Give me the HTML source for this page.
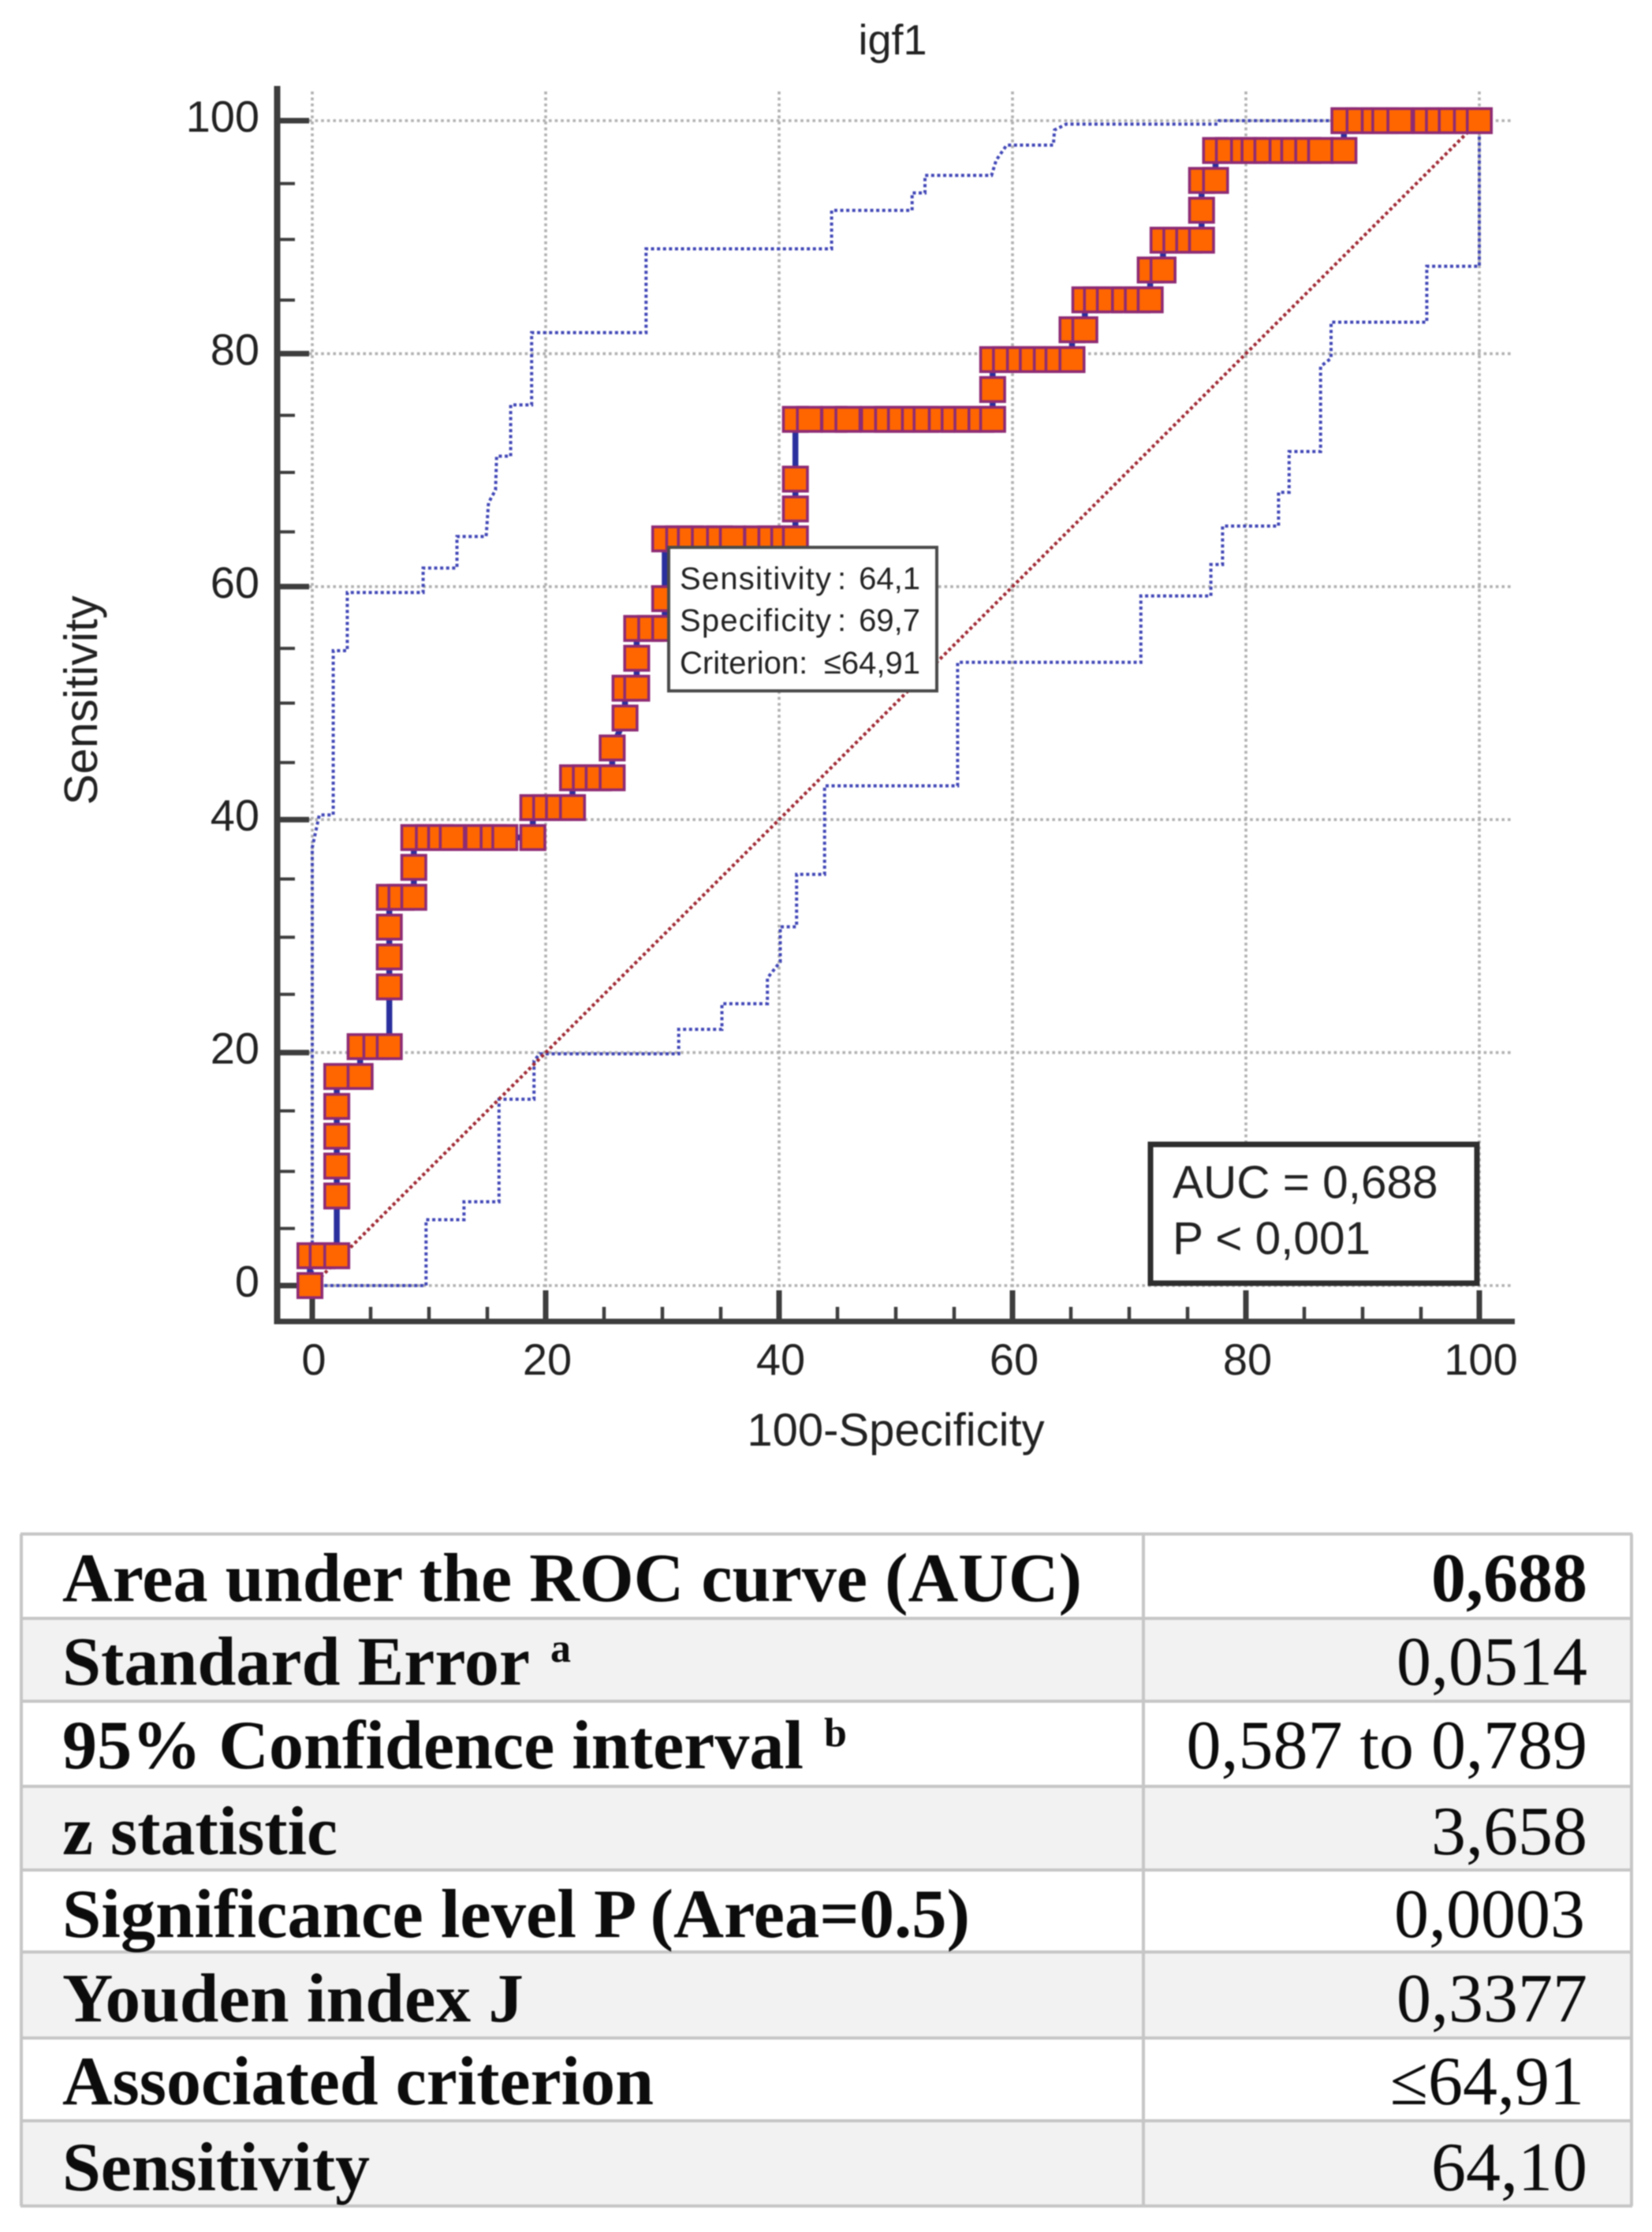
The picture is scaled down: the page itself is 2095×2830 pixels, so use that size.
<!DOCTYPE html>
<html lang="en">
<head>
<meta charset="utf-8">
<title>igf1 ROC curve</title>
<style>
html,body{margin:0;padding:0;background:#fff;width:2095px;height:2830px;overflow:hidden}
#canvas{display:block;position:absolute;left:0;top:0}
.ax{font-family:"Liberation Sans",sans-serif;fill:#222}
.tb{font-family:"Liberation Serif",serif;fill:#0c0c0c;font-size:88px}
.b{font-weight:bold}
</style>
</head>
<body>
<svg id="canvas" xmlns="http://www.w3.org/2000/svg" width="2095" height="2830" viewBox="0 0 2095 2830">
  <g id="chart" style="filter:blur(0.9px)">
    <text class="ax" x="1132" y="69" font-size="54" text-anchor="middle">igf1</text>
    <text class="ax" transform="translate(123,888) rotate(-90)" font-size="59" text-anchor="middle">Sensitivity</text>
    <text class="ax" x="1136" y="1833" font-size="58" text-anchor="middle">100-Specificity</text>
    <g id="grid"></g>
    <g id="axes"></g>
    <g id="series"></g>
    <g>
      <rect x="848" y="694" width="340" height="182" fill="#fff" stroke="#4a4a4a" stroke-width="4"/>
      <text class="ax" x="862" y="747" font-size="40" textLength="192" lengthAdjust="spacing">Sensitivity</text>
      <text class="ax" x="1062" y="747" font-size="40">:</text>
      <text class="ax" x="1167" y="747" font-size="40" text-anchor="end">64,1</text>
      <text class="ax" x="862" y="800" font-size="40" textLength="192" lengthAdjust="spacing">Specificity</text>
      <text class="ax" x="1062" y="800" font-size="40">:</text>
      <text class="ax" x="1167" y="800" font-size="40" text-anchor="end">69,7</text>
      <text class="ax" x="862" y="854" font-size="40">Criterion:</text>
      <text class="ax" x="1167" y="854" font-size="40" text-anchor="end">≤64,91</text>
    </g>
    <g>
      <rect x="1459" y="1451" width="414" height="176" fill="#fff" stroke="#2e2e2e" stroke-width="7"/>
      <text class="ax" x="1487" y="1519" font-size="58.5">AUC = 0,688</text>
      <text class="ax" x="1487" y="1590" font-size="58.5">P &lt; 0,001</text>
    </g>
  </g>
  <g style="filter:blur(0.8px)">
    <rect x="27" y="1945" width="2042" height="106" fill="#ffffff"/>
    <rect x="27" y="2052" width="2042" height="105" fill="#f2f2f2"/>
    <rect x="27" y="2157" width="2042" height="108" fill="#ffffff"/>
    <rect x="27" y="2265" width="2042" height="106" fill="#f2f2f2"/>
    <rect x="27" y="2371" width="2042" height="104" fill="#ffffff"/>
    <rect x="27" y="2475" width="2042" height="109" fill="#f2f2f2"/>
    <rect x="27" y="2584" width="2042" height="105" fill="#ffffff"/>
    <rect x="27" y="2689" width="2042" height="108" fill="#f2f2f2"/>
    <path d="M26 1945H2070M26 2052H2070M26 2157H2070M26 2265H2070M26 2371H2070M26 2475H2070M26 2584H2070M26 2689H2070M26 2797H2070M27 1945V2797M1450 1945V2797M2069 1945V2797" stroke="#c6c6c6" stroke-width="4" fill="none"/>

    <text class="tb b" x="79" y="2030" textLength="1293" lengthAdjust="spacingAndGlyphs">Area under the ROC curve (AUC)</text>
    <text class="tb b" x="2013" y="2030" text-anchor="end">0,688</text>

    <text class="tb b" x="79" y="2136" textLength="593" lengthAdjust="spacingAndGlyphs">Standard Error</text>
    <text class="tb b" x="698" y="2107" style="font-size:52px">a</text>
    <text class="tb" x="2013" y="2136" text-anchor="end">0,0514</text>

    <text class="tb b" x="79" y="2242" textLength="940" lengthAdjust="spacingAndGlyphs">95% Confidence interval</text>
    <text class="tb b" x="1045" y="2214" style="font-size:52px">b</text>
    <text class="tb" x="2013" y="2242" text-anchor="end">0,587 to 0,789</text>

    <text class="tb b" x="79" y="2351" textLength="349" lengthAdjust="spacingAndGlyphs">z statistic</text>
    <text class="tb" x="2013" y="2351" text-anchor="end">3,658</text>

    <text class="tb b" x="79" y="2456" textLength="1151" lengthAdjust="spacingAndGlyphs">Significance level P (Area=0.5)</text>
    <text class="tb" x="2010" y="2456" text-anchor="end">0,0003</text>

    <text class="tb b" x="79" y="2563" textLength="585" lengthAdjust="spacingAndGlyphs">Youden index J</text>
    <text class="tb" x="2013" y="2563" text-anchor="end">0,3377</text>

    <text class="tb b" x="79" y="2668" textLength="750" lengthAdjust="spacingAndGlyphs">Associated criterion</text>
    <text class="tb" x="2009" y="2668" text-anchor="end">≤64,91</text>

    <text class="tb b" x="79" y="2777" textLength="390" lengthAdjust="spacingAndGlyphs">Sensitivity</text>
    <text class="tb" x="2013" y="2777" text-anchor="end">64,10</text>
  </g>
</svg>
<script>
// ---- chart data ----
var xTickLabels = [0, 20, 40, 60, 80, 100];
var yTickLabels = [0, 20, 40, 60, 80, 100];
var xMinorTicks = [5, 10, 15, 25, 30, 35, 45, 50, 55, 65, 70, 75, 85, 90, 95];
var yMinorTicks = [4.9, 9.8, 15, 25, 29.9, 34.9, 44.9, 50, 54.7, 64.7, 69.8, 74.7, 84.6, 89.8, 94.6];

var rocX = [-0.2,
  -0.2, 0.85, 2.1,
  2.1, 2.1, 2.1, 2.1, 2.1, 4.1,
  4.1, 5.45, 6.6,
  6.6, 6.6, 6.6, 6.6, 7.6, 8.7,
  8.7, 8.7, 9.95, 11, 12, 14.2, 15.5, 16.5, 18.9,
  18.9, 20, 21.1, 22.3,
  22.3, 23.4, 24.5, 25.7,
  25.7, 26.8, 26.8, 27.8, 27.8, 27.8, 29, 30.2,
  30.2, 30.2, 31.4, 32.4, 33.6, 34.9, 36, 38.1, 39.3, 40.4, 41.4,
  41.4, 41.4, 41.4, 42.6, 44.7, 45.9, 48.1, 49.3, 50.4, 51.6, 52.6, 53.9, 55, 56.1, 57.3, 58.3,
  58.3, 58.3, 59.4, 60.6, 61.7, 62.9, 63.9, 65.1,
  65.1, 66.2,
  66.2, 67.2, 68.3, 69.6, 70.7, 71.8,
  71.8, 72.9,
  72.9, 74, 75.1, 76.2,
  76.2, 76.2, 77.4,
  77.4, 78.5, 79.8, 80.7, 81.8, 83.1, 84.1, 85.3, 86.4, 88.4,
  88.4, 89.7, 91, 91.9, 93.2, 95.4, 96.5, 97.6, 98.9, 100];
var rocY = [0,
  2.56, 2.56, 2.56,
  7.69, 10.26, 12.82, 15.38, 17.95, 17.95,
  20.51, 20.51, 20.51,
  25.64, 28.21, 30.77, 33.33, 33.33, 33.33,
  35.9, 38.46, 38.46, 38.46, 38.46, 38.46, 38.46, 38.46, 38.46,
  41.03, 41.03, 41.03, 41.03,
  43.59, 43.59, 43.59, 43.59,
  46.15, 48.72, 51.28, 51.28, 53.85, 56.41, 56.41, 56.41,
  58.97, 64.1, 64.1, 64.1, 64.1, 64.1, 64.1, 64.1, 64.1, 64.1, 64.1,
  66.67, 69.23, 74.36, 74.36, 74.36, 74.36, 74.36, 74.36, 74.36, 74.36, 74.36, 74.36, 74.36, 74.36, 74.36, 74.36,
  76.92, 79.49, 79.49, 79.49, 79.49, 79.49, 79.49, 79.49,
  82.05, 82.05,
  84.62, 84.62, 84.62, 84.62, 84.62, 84.62,
  87.18, 87.18,
  89.74, 89.74, 89.74, 89.74,
  92.31, 94.87, 94.87,
  97.44, 97.44, 97.44, 97.44, 97.44, 97.44, 97.44, 97.44, 97.44, 97.44,
  100, 100, 100, 100, 100, 100, 100, 100, 100, 100];

var upperCiX = [0, 0, 0.6, 1.8, 1.8, 3, 3, 9.5, 9.5, 12.4, 12.4, 14.9, 15.1, 15.7, 15.8, 17, 17, 18.8, 18.8, 28.6, 28.6, 44.5, 44.5, 51.4, 51.4, 52.5, 52.5, 58.2, 58.6, 59.5, 63.5, 63.6, 64.6, 77.6, 77.7, 100];
var upperCiY = [0, 37.6, 40.4, 40.4, 54.5, 54.5, 59.5, 59.5, 61.6, 61.6, 64.3, 64.3, 67.2, 68.3, 71.2, 71.2, 75.6, 75.6, 81.8, 81.8, 89, 89, 92.3, 92.3, 93.8, 93.8, 95.3, 95.3, 96.6, 97.9, 97.9, 99.2, 99.7, 99.7, 100, 100];
var lowerCiX = [0, 9.75, 9.75, 13, 13, 16, 16, 19, 19, 19.5, 31.4, 31.4, 35.1, 35.1, 39, 39, 40.1, 40.1, 41.5, 41.5, 43.9, 43.9, 55.3, 55.3, 71, 71, 77, 77, 78, 78, 82.8, 82.8, 83.7, 83.7, 86.4, 86.4, 87.3, 87.3, 95.5, 95.5, 100, 100];
var lowerCiY = [0, 0, 5.65, 5.65, 7.2, 7.2, 16, 16, 19.3, 19.9, 19.9, 22, 22, 24.2, 24.2, 26.4, 27.8, 30.8, 30.8, 35.3, 35.3, 42.9, 42.9, 53.5, 53.5, 59.2, 59.2, 61.9, 61.9, 65.2, 65.2, 68.1, 68.1, 71.6, 71.6, 78.9, 79.6, 82.7, 82.7, 87.5, 87.5, 100];

var diagonalX = [0, 100];
var diagonalY = [0, 100];

// ---- axis functions ----
function xScale(v) { return 396 + 14.8 * v; }
function yScale(v) { return 1630 - 14.77 * v; }

var NS = 'http://www.w3.org/2000/svg';
var gridG = document.getElementById('grid');
var axesG = document.getElementById('axes');
var seriesG = document.getElementById('series');

function line(parent, x1, y1, x2, y2, color, width, dash) {
  var l = document.createElementNS(NS, 'line');
  l.setAttribute('x1', x1);
  l.setAttribute('y1', y1);
  l.setAttribute('x2', x2);
  l.setAttribute('y2', y2);
  l.setAttribute('stroke', color);
  l.setAttribute('stroke-width', width);
  if (dash) l.setAttribute('stroke-dasharray', dash);
  parent.appendChild(l);
  return l;
}
function polyline(parent, xs, ys, color, width, dash) {
  var p = document.createElementNS(NS, 'polyline');
  var pts = [];
  for (var i = 0; i < xs.length; i++) pts.push(xScale(xs[i]).toFixed(1) + ',' + yScale(ys[i]).toFixed(1));
  p.setAttribute('points', pts.join(' '));
  p.setAttribute('fill', 'none');
  p.setAttribute('stroke', color);
  p.setAttribute('stroke-width', width);
  if (dash) p.setAttribute('stroke-dasharray', dash);
  parent.appendChild(p);
  return p;
}
function label(parent, x, y, txt, anchor) {
  var t = document.createElementNS(NS, 'text');
  t.setAttribute('class', 'ax');
  t.setAttribute('x', x);
  t.setAttribute('y', y);
  t.setAttribute('font-size', '56');
  t.setAttribute('text-anchor', anchor);
  t.textContent = txt;
  parent.appendChild(t);
  return t;
}

// grid
xTickLabels.forEach(function (v) {
  var g = line(gridG, xScale(v), 116, xScale(v), 1636, '#b0b0b0', 3.6, '3.6 4');
  
  
});
yTickLabels.forEach(function (v) {
  var g = line(gridG, 392, yScale(v), 1916, yScale(v), '#b0b0b0', 3.6, '3.6 4');
  
  
});

// axes
var ySpine = line(axesG, 351.5, 109, 351.5, 1679, '#3d3d3d', 8);


var xSpine = line(axesG, 348, 1675.5, 1921, 1675.5, '#3d3d3d', 7);



yTickLabels.forEach(function (v) {
  var t = line(axesG, 352, yScale(v), 392, yScale(v), '#3d3d3d', 7);
  
  
  var l = label(axesG, 329, yScale(v) + 14, String(v), 'end');
  
  
});
yMinorTicks.forEach(function (v) {
  var t = line(axesG, 352, yScale(v), 374, yScale(v), '#3d3d3d', 4);
  
  
});
xTickLabels.forEach(function (v) {
  var t = line(axesG, xScale(v), 1675, xScale(v), 1636, '#3d3d3d', 7);
  
  
  var l = label(axesG, xScale(v) + 2, 1743, String(v), 'middle');
  
  
});
xMinorTicks.forEach(function (v) {
  var t = line(axesG, xScale(v), 1675, xScale(v), 1657, '#3d3d3d', 4.5);
  
  
});

// series
var upperLine = polyline(seriesG, upperCiX, upperCiY, '#4046b6', 4, '4 3.6');


var lowerLine = polyline(seriesG, lowerCiX, lowerCiY, '#4046b6', 4, '4 3.6');


var refLine = polyline(seriesG, diagonalX, diagonalY, '#a02a34', 4.2, '4 3.6');


var rocLine = polyline(seriesG, rocX, rocY, '#2a2f9e', 7.5);



for (var i = 0; i < rocX.length; i++) {
  var m = document.createElementNS(NS, 'rect');
  m.setAttribute('x', xScale(rocX[i]) - 15.25);
  m.setAttribute('y', yScale(rocY[i]) - 15.25);
  m.setAttribute('width', 30.5);
  m.setAttribute('height', 30.5);
  m.setAttribute('fill', '#ff6600');
  m.setAttribute('stroke', '#8e2b74');
  m.setAttribute('stroke-width', 3.6);
  
  
  seriesG.appendChild(m);
}
</script>
</body>
</html>
